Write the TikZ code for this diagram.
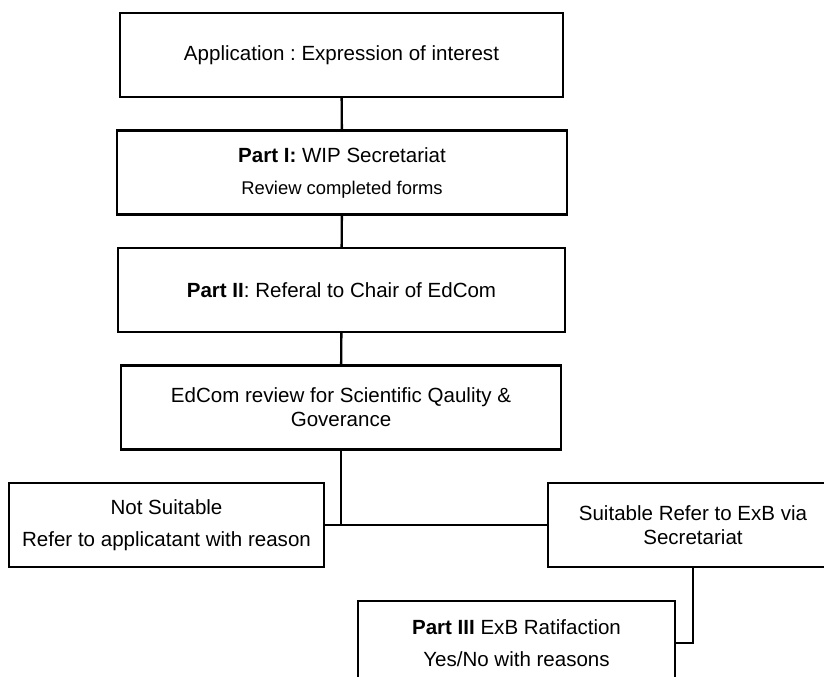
\documentclass[tikz,border=0pt]{standalone}
\usepackage{fontspec}
\setmainfont{Liberation Sans}
\usepackage{tikz}
\frenchspacing

\begin{document}
\begin{tikzpicture}[x=0.75pt,y=-0.75pt,
  box/.style={draw,line width=1.8pt,rectangle,align=center,inner sep=0pt,
    minimum height=63pt,font=\fontsize{15.4}{18}\selectfont},
  link/.style={line width=1.8pt}]
%\draw[step=10,gray,very thin] (0,0) grid (824,677);
\useasboundingbox (0,0) rectangle (824,677);

% boxes down the middle

\coordinate (c1) at (341.5,55);
\coordinate (c2) at (342,172.5);
\coordinate (c3) at (341.5,290);
\coordinate (c4) at (341,407.5);

\node[box,minimum width=332pt] (app) at (c1) {Application : Expression of interest};
\node[box,minimum width=337.5pt] (part1) at (c2)
  {\textbf{Part I:} WIP Secretariat\\[6pt]{\fontsize{13.8}{16}\selectfont Review completed forms}};
\node[box,minimum width=335pt] (part2) at (c3) {\textbf{Part II}: Referal to Chair of EdCom};
\node[box,minimum width=330pt] (edcom) at (c4)
  {EdCom review for Scientific Qaulity \&\\Goverance};

% outcomes

\coordinate (o1) at (166.5,525);
\coordinate (o2) at (693,525);
\coordinate (o3) at (516.5,643);

\node[box,minimum width=236pt] (notsuit) at (o1)
  {Not Suitable\\[6pt]Refer to applicatant with reason};
\node[box,minimum width=217.5pt] (suit) at (o2)
  {Suitable Refer to ExB via\\Secretariat};
\node[box,minimum width=238pt] (part3) at (o3)
  {\textbf{Part III} ExB Ratifaction\\[6pt]Yes/No with reasons};

% links

\draw[link] (app) -- (part1);
\draw[link] (part1) -- (part2);
\draw[link] (part2) -- (edcom);
\draw[link] (edcom.south) -- (edcom.south |- notsuit.east);
\draw[link] (notsuit.east) -- (suit.west);
\draw[link] (suit.south) |- (part3.east);

\end{tikzpicture}
\end{document}
